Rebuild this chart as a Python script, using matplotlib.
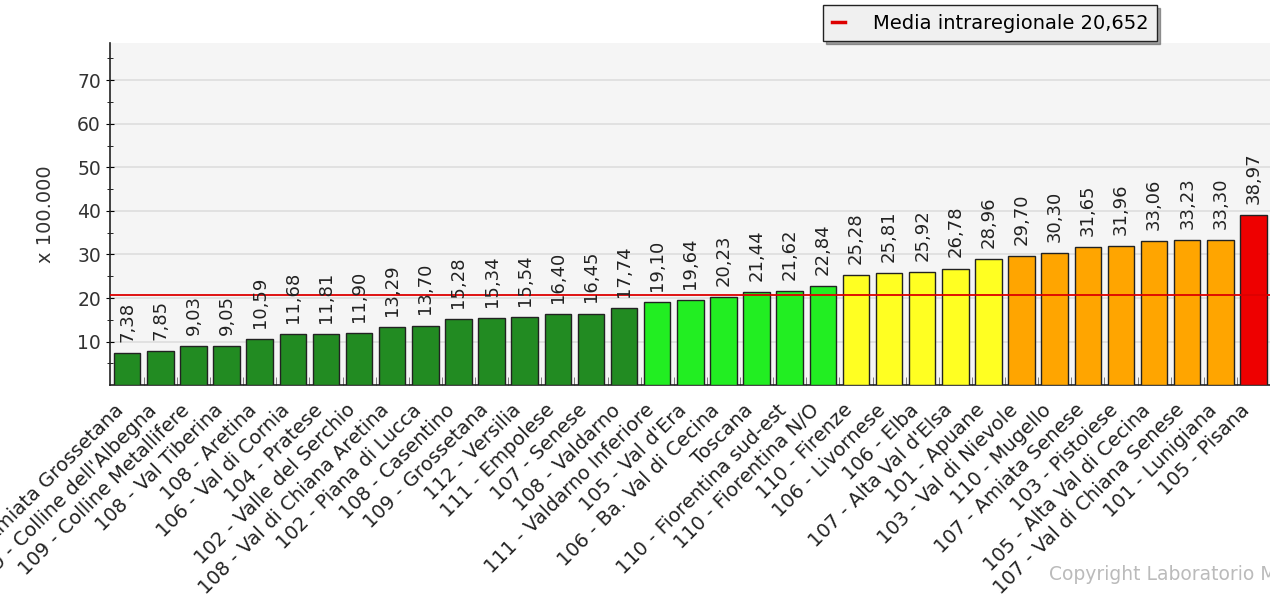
import matplotlib.pyplot as plt
from matplotlib.transforms import ScaledTranslation

labels = ["109 - Amiata Grossetana", "109 - Colline dell'Albegna", "109 - Colline Metallifere",
          "108 - Val Tiberina", "108 - Aretina", "106 - Val di Cornia", "104 - Pratese",
          "102 - Valle del Serchio", "108 - Val di Chiana Aretina", "102 - Piana di Lucca",
          "108 - Casentino", "109 - Grossetana", "112 - Versilia", "111 - Empolese",
          "107 - Senese", "108 - Valdarno", "111 - Valdarno Inferiore", "105 - Val d'Era",
          "106 - Ba. Val di Cecina", "Toscana", "110 - Fiorentina sud-est", "110 - Fiorentina N/O",
          "110 - Firenze", "106 - Livornese", "106 - Elba", "107 - Alta Val d'Elsa",
          "101 - Apuane", "103 - Val di Nievole", "110 - Mugello", "107 - Amiata Senese",
          "103 - Pistoiese", "105 - Alta Val di Cecina", "107 - Val di Chiana Senese",
          "101 - Lunigiana", "105 - Pisana"]
values = [7.38, 7.85, 9.03, 9.05, 10.59, 11.68, 11.81, 11.90, 13.29, 13.70,
          15.28, 15.34, 15.54, 16.40, 16.45, 17.74, 19.10, 19.64, 20.23, 21.44,
          21.62, 22.84, 25.28, 25.81, 25.92, 26.78, 28.96, 29.70, 30.30, 31.65,
          31.96, 33.06, 33.23, 33.30, 38.97]
# colour class of each bar
classes = [0] * 16 + [1] * 6 + [2] * 5 + [3] * 7 + [4]
palette = ["#228b22", "#22ee22", "#ffff22", "#ffa500", "#ee0000"]
media = 20.652

fig = plt.figure(figsize=(12.7, 6.0), dpi=100)
ax = fig.add_axes([0.0866, 0.358, 0.9134, 0.57])
ax.set_facecolor("#f5f5f5")

x = list(range(len(values)))
colors = [palette[c] for c in classes]
ax.bar(x, values, width=0.8, color=colors, edgecolor="#222222", linewidth=1.0, zorder=3)

for xi, v in zip(x, values):
    ax.annotate(f"{v:.2f}".replace(".", ","), (xi, v), xytext=(0, 8),
                textcoords="offset points", rotation=90, ha="center", va="bottom",
                fontsize=13, color="#222222", zorder=5)

line = ax.axhline(media, color="#dd0000", linewidth=1.3, zorder=4)

ax.set_xlim(-0.52, len(values) - 0.5)
ax.set_ylim(0, 78.5)
ax.set_yticks(range(10, 80, 10))
ax.set_yticks(range(5, 80, 5), minor=True)
ax.tick_params(axis="y", labelsize=13.5, labelcolor="#333333", length=6, direction="inout")
ax.tick_params(axis="y", which="minor", length=5, direction="inout")
ax.yaxis.grid(True, color="#dddddd", linewidth=1.2, zorder=0)
ax.set_ylabel("x 100.000", fontsize=14, color="#333333", labelpad=16)

ax.set_xticks(x)
ax.set_xticklabels(labels, rotation=45, ha="right", rotation_mode="anchor",
                   fontsize=14, color="#222222")
ax.tick_params(axis="x", length=0, pad=11)
shift = ScaledTranslation(-0.13, 0, fig.dpi_scale_trans)
for lbl in ax.get_xticklabels():
    lbl.set_transform(lbl.get_transform() + shift)
ax.set_xticks([i + 0.5 for i in x[:-1]], minor=True)
ax.tick_params(axis="x", which="minor", length=6, direction="in", color="#666666")

for s in ["top", "right"]:
    ax.spines[s].set_visible(False)
ax.spines["left"].set_color("#222222")
ax.spines["bottom"].set_color("#222222")
ax.spines["left"].set_linewidth(1.2)
ax.spines["bottom"].set_linewidth(1.2)

leg = fig.legend([line], [f"Media intraregionale {media:.3f}".replace(".", ",")],
                 loc="upper left", bbox_to_anchor=(0.648, 0.992), fontsize=14,
                 frameon=True, fancybox=False, shadow=True, edgecolor="#222222",
                 facecolor="#f0f0f0", handlelength=0.7, handletextpad=1.4,
                 borderpad=0.45, borderaxespad=0)
leg.get_lines()[0].set_linewidth(2.5)

fig.text(0.826, 0.033, "Copyright Laboratorio MeS", fontsize=13.5, color="#bbbbbb")

fig.savefig("out.png", dpi=100)
